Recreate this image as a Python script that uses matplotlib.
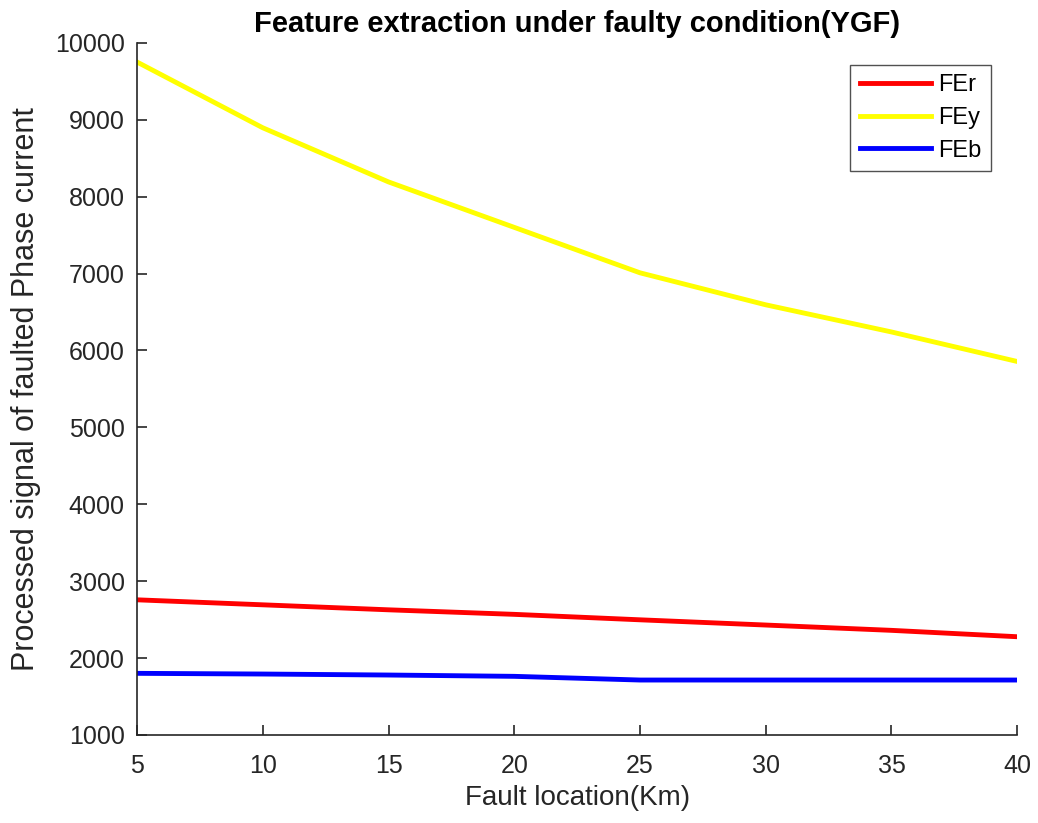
import matplotlib
matplotlib.use("Agg")
import matplotlib.pyplot as plt

# data
location = [5, 10, 15, 20, 25, 30, 35, 40]
fe_r = [2757, 2692, 2627, 2568, 2497, 2429, 2360, 2277]
fe_y = [9750, 8895, 8191, 7600, 7009, 6593, 6240, 5856]
fe_b = [1801, 1792, 1779, 1762, 1714, 1714, 1714, 1714]

plt.rcParams['font.family'] = ['Liberation Sans', 'DejaVu Sans']

fig = plt.figure(figsize=(10.38, 8.23), dpi=100)
ax = fig.add_axes([0.132, 0.107, 0.848, 0.841])

ax.plot(location, fe_r, color='#ff0000', linewidth=3.5, label='FEr')
ax.plot(location, fe_y, color='#ffff00', linewidth=3.5, label='FEy')
ax.plot(location, fe_b, color='#0000ff', linewidth=3.5, label='FEb')

ax.set_xlim(5, 40)
ax.set_ylim(1000, 10000)
ax.set_xticks(range(5, 41, 5))
ax.set_yticks(range(1000, 10001, 1000))

for s in ['top', 'right']:
    ax.spines[s].set_visible(False)
for s in ['left', 'bottom']:
    ax.spines[s].set_color('#262626')
    ax.spines[s].set_linewidth(1.2)
ax.tick_params(direction='in', length=7, width=1.2, colors='#262626',
               labelsize=18)
ax.tick_params(axis='y', pad=9)
ax.tick_params(axis='x', pad=14)

ax.set_title('Feature extraction under faulty condition(YGF)',
             fontsize=21, fontweight='bold', pad=8)
ax.set_xlabel('Fault location(Km)', fontsize=20, color='#262626', labelpad=5)
ax.set_ylabel('Processed signal of faulted Phase current', fontsize=22,
              color='#262626', labelpad=10)

leg = ax.legend(loc='upper right', bbox_to_anchor=(0.975, 0.975),
                fontsize=17, fancybox=False, handlelength=3.0,
                borderpad=0.4, labelspacing=0.45, handletextpad=0.3,
                borderaxespad=0.2)
leg.get_frame().set_edgecolor('#262626')
leg.get_frame().set_linewidth(1.0)

plt.savefig('out.png', dpi=100)
